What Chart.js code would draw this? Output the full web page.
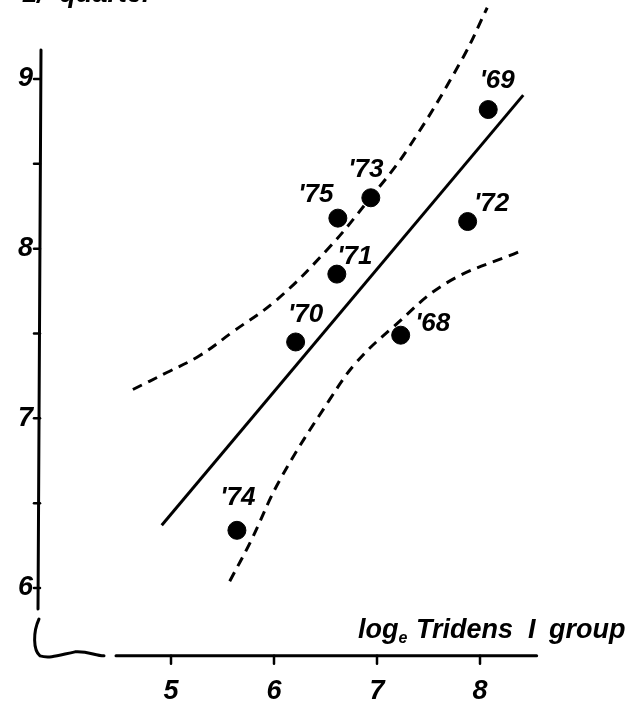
<!DOCTYPE html>
<html>
<head>
<meta charset="utf-8">
<script src="https://cdn.jsdelivr.net/npm/chart.js@4.4.1/dist/chart.umd.min.js"></script>
<style>
html, body { margin: 0; padding: 0; background: #fff; }
canvas { display: block; }
</style>
</head>
<body>
<canvas id="grafico" width="637" height="708"></canvas>
<script>
// anos e valores
const anos = ["'68", "'69", "'70", "'71", "'72", "'73", "'74", "'75"];
const tridens = [7.23, 8.08, 6.21, 6.61, 7.88, 6.94, 5.64, 6.62];
const quarter = [7.49, 8.82, 7.45, 7.85, 8.16, 8.30, 6.34, 8.18];

// reta de regressão (extremos)
const retaX = [4.91, 8.42];
const retaY = [6.37, 8.905];

// faixas tracejadas
const supX = [4.63, 4.96, 5.28, 5.60, 6.03, 6.54, 6.91, 7.29, 7.82, 8.07];
const supY = [7.17, 7.27, 7.37, 7.51, 7.70, 8.01, 8.28, 8.58, 9.11, 9.42];
const infX = [5.57, 5.77, 6.06, 6.54, 6.80, 7.16, 7.68, 8.37];
const infY = [6.04, 6.27, 6.64, 7.11, 7.33, 7.54, 7.80, 7.98];

const ticksX = [5, 6, 7, 8];
const ticksY = [6, 7, 8, 9];
const ticksYmenor = [6.5, 7.5, 8.5];

const FONTE = "'Liberation Sans Narrow', 'Liberation Sans', sans-serif";

// deslocamento dos rótulos dos anos em relação ao ponto (px)
const deslocRotulo = [[32, -11], [9, -29], [10, -27], [18, -17], [24, -18], [-5, -28], [1, -32], [-22, -23]];

const pares = (xs, ys) => xs.map((v, i) => ({ x: v, y: ys[i] }));

const eixos = {
    id: 'eixos',
    afterDraw(chart) {
        const ctx = chart.ctx;
        const sx = chart.scales.x, sy = chart.scales.y;
        ctx.save();
        ctx.strokeStyle = '#000';
        ctx.fillStyle = '#000';
        ctx.lineWidth = 3;
        ctx.lineCap = 'round';

        // eixo y
        const eixoYx = 40;
        ctx.beginPath();
        ctx.moveTo(eixoYx + 1, 50);
        ctx.lineTo(eixoYx - 2, 609);
        ctx.stroke();
        ctx.lineWidth = 2.5;
        [...ticksY, ...ticksYmenor].forEach(v => {
            const py = sy.getPixelForValue(v);
            ctx.beginPath();
            ctx.moveTo(eixoYx - 6, py);
            ctx.lineTo(eixoYx, py);
            ctx.stroke();
        });
        ctx.font = 'italic bold 27px ' + FONTE;
        ctx.textAlign = 'right';
        ctx.textBaseline = 'middle';
        ticksY.forEach(v => ctx.fillText(String(v), eixoYx - 7, sy.getPixelForValue(v)));

        // quebra do eixo
        const eixoXy = sy.getPixelForValue(5.6);
        ctx.lineWidth = 3;
        ctx.beginPath();
        ctx.moveTo(39, 619);
        ctx.bezierCurveTo(33, 632, 33, 650, 40, eixoXy);
        ctx.bezierCurveTo(50, eixoXy + 3, 60, eixoXy - 1, 75, eixoXy - 4);
        ctx.bezierCurveTo(88, eixoXy - 5, 95, eixoXy, 104, eixoXy);
        ctx.stroke();

        // eixo x
        ctx.beginPath();
        ctx.moveTo(116, eixoXy);
        ctx.lineTo(sx.getPixelForValue(8.55), eixoXy);
        ctx.stroke();
        ctx.lineWidth = 2.5;
        ctx.textAlign = 'center';
        ticksX.forEach(v => {
            const px = sx.getPixelForValue(v);
            ctx.beginPath();
            ctx.moveTo(px, eixoXy);
            ctx.lineTo(px, eixoXy + 8);
            ctx.stroke();
            ctx.fillText(String(v), px, eixoXy + 36);
        });

        // título do eixo x
        ctx.textAlign = 'left';
        ctx.textBaseline = 'alphabetic';
        const ty = 638;
        ctx.font = 'italic bold 27px ' + FONTE;
        ctx.fillText('log', 358, ty);
        const wLog = ctx.measureText('log').width;
        ctx.font = 'italic bold 16px ' + FONTE;
        ctx.fillText('e', 358 + wLog, ty + 5);
        ctx.font = 'italic bold 27px ' + FONTE;
        ctx.fillText('Tridens', 416, ty);
        ctx.fillText('I', 528, ty);
        ctx.fillText('group', 549, ty);

        // título do eixo y (cortado no topo)
        ctx.fillText('1/  quarter', 22, 2);

        // rótulos dos anos
        ctx.font = 'italic bold 26px ' + FONTE;
        ctx.textAlign = 'center';
        ctx.textBaseline = 'middle';
        const meta = chart.getDatasetMeta(0);
        meta.data.forEach((pt, i) => {
            const [dx, dy] = deslocRotulo[i];
            ctx.fillText(anos[i], pt.x + dx, pt.y + dy);
        });
        ctx.restore();
    }
};

const tracejado = {
    showLine: true,
    borderColor: '#000',
    borderWidth: 3,
    borderDash: [10, 7],
    tension: 0.4,
    pointRadius: 0,
    clip: false
};

new Chart(document.getElementById('grafico'), {
    type: 'scatter',
    data: {
        datasets: [
            {
                label: 'anos',
                data: pares(tridens, quarter),
                backgroundColor: '#000',
                borderColor: '#000',
                pointRadius: 9,
                pointHoverRadius: 9,
                clip: false
            },
            {
                label: 'regressão',
                data: pares(retaX, retaY),
                showLine: true,
                borderColor: '#000',
                borderWidth: 3,
                pointRadius: 0,
                clip: false
            },
            { label: 'superior', data: pares(supX, supY), ...tracejado },
            { label: 'inferior', data: pares(infX, infY), ...tracejado }
        ]
    },
    options: {
        responsive: false,
        animation: false,
        layout: { padding: { left: 68, right: 54, top: 79, bottom: 120 } },
        scales: {
            x: { type: 'linear', min: 4, max: 9, display: false },
            y: { type: 'linear', min: 6, max: 9, display: false }
        },
        plugins: {
            legend: { display: false },
            tooltip: { enabled: false }
        }
    },
    plugins: [eixos]
});
</script>
</body>
</html>
